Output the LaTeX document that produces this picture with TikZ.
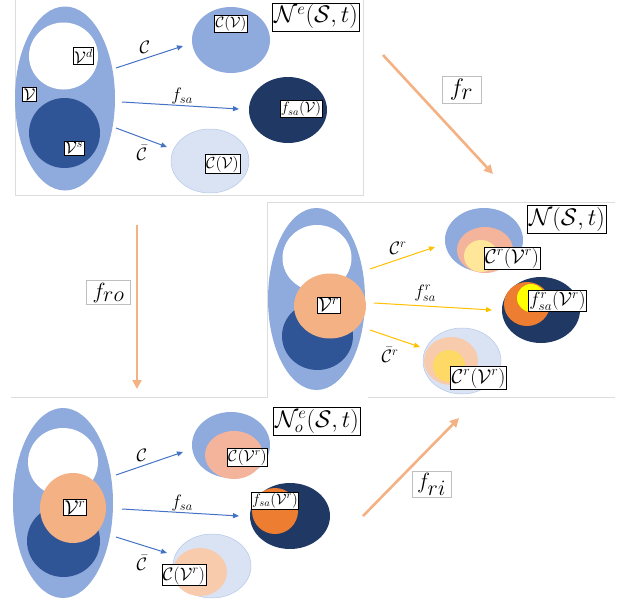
\documentclass[tikz,border=0pt]{standalone}
\usepackage{fix-cm}
\usetikzlibrary{arrows.meta,shapes.geometric}
\definecolor{cmid}{HTML}{8FAADC}
\definecolor{cdark}{HTML}{2F5597}
\definecolor{cnavy}{HTML}{203864}
\definecolor{clight}{HTML}{DAE3F3}
\definecolor{clightb}{HTML}{B4C7E7}
\definecolor{corg}{HTML}{F4B183}
\definecolor{csalm}{HTML}{F4B49C}
\definecolor{csalml}{HTML}{F8CBAD}
\definecolor{cdorg}{HTML}{ED7D31}
\definecolor{cyel}{HTML}{FFFF00}
\definecolor{cpy}{HTML}{FFE699}
\definecolor{cgy}{HTML}{FFD966}
\definecolor{cgold}{HTML}{FFC000}
\definecolor{carrow}{HTML}{4472C4}
\definecolor{cpanel}{HTML}{DDDDDD}
\newcommand{\fsz}[1]{\fontsize{#1}{#1}\selectfont}
\tikzset{
  blob/.style={ellipse,inner sep=0pt,draw=none},
  lab/.style={draw=black,line width=0.6pt,fill=white,inner sep=1pt,font=\fsz{15}},
  biglab/.style={draw=black,line width=0.9pt,fill=white,inner sep=2pt,font=\fsz{24}},
  flab/.style={draw=black!25,line width=0.5pt,fill=white,inner xsep=8pt,inner ysep=3pt,font=\fsz{24}},
  alab/.style={inner sep=0pt,font=\fsz{18}},
  barrow/.style={draw=carrow,line width=1pt,-{Triangle[length=6pt,width=5pt]}},
  garrow/.style={draw=cgold,line width=1pt,-{Triangle[length=6pt,width=5pt]}},
  oarrow/.style={draw=corg,line width=2.6pt,-{Triangle[length=9pt,width=9pt]}},
  panel/.style={draw=cpanel,line width=0.6pt}
}
\begin{document}
\begin{tikzpicture}[x=1pt,y=-1pt]
\useasboundingbox (0,0) rectangle (635,605);
% panel borders
\draw[panel] (15.5,0) -- (15.5,195) -- (363,195) -- (363,0);
\draw[panel] (615,202) -- (267,202) -- (267,397) -- (11,397);
\draw[panel] (368,397) -- (615,397);

% ===== Panel 1 =====
\node[blob,fill=cmid,minimum width=100pt,minimum height=184pt] (V1) at (65,98.5) {};
\node[blob,fill=white,minimum width=69pt,minimum height=67pt] (W1) at (63.5,56) {};
\node[blob,fill=cdark,minimum width=71pt,minimum height=70pt] (S1) at (64.5,133) {};
\node[lab,font=\fsz{17}] (lVd) at (83.5,56) {$\mathcal{V}^d$};
\node[lab,font=\fsz{17}] (lV) at (29.5,94.5) {$\mathcal{V}$};
\node[lab,font=\fsz{17}] (lVs) at (74,148) {$\mathcal{V}^s$};

\node[blob,fill=cmid,minimum width=78pt,minimum height=66pt] (CV1) at (231,40) {};
\node[blob,fill=cnavy,minimum width=78pt,minimum height=66pt] (FV1) at (288,110) {};
\node[blob,fill=clight,draw=clightb,line width=0.5pt,minimum width=78pt,minimum height=64pt] (BV1) at (210,161) {};
\node[lab,font=\fsz{15}] (lCV1) at (231,24) {$\mathcal{C}(\mathcal{V})$};
\node[lab,font=\fsz{15}] (lFV1) at (301,109) {$f_{sa}(\mathcal{V})$};
\node[lab,font=\fsz{16}] (lBV1) at (222.5,164) {$\bar{\mathcal{C}}(\mathcal{V})$};
\node[biglab] (N1) at (316,17) {$\mathcal{N}^e(\mathcal{S},t)$};

\coordinate (a1s) at (116,68); \coordinate (a1e) at (183,46);
\coordinate (a2s) at (122,102); \coordinate (a2e) at (239,109);
\coordinate (a3s) at (116,128); \coordinate (a3e) at (167,147);
\draw[barrow] (a1s) -- (a1e);
\draw[barrow] (a2s) -- (a2e);
\draw[barrow] (a3s) -- (a3e);
\node[alab] (t1) at (145,47) {$\mathcal{C}$};
\node[alab] (t2) at (182,96) {$f_{sa}$};
\node[alab] (t3) at (142,153) {$\bar{\mathcal{C}}$};

% ===== Panel 2 =====
\node[blob,fill=cmid,minimum width=97pt,minimum height=182pt] (V2) at (316.5,299) {};
\node[blob,fill=white,minimum width=69pt,minimum height=66pt] (W2) at (317,258) {};
\node[blob,fill=cdark,minimum width=71pt,minimum height=68pt] (S2) at (317.5,336) {};
\node[blob,fill=corg,minimum width=72pt,minimum height=65pt] (R2) at (330,306) {};
\node[lab,font=\fsz{20}] (lVr2) at (328.5,305) {$\mathcal{V}^r$};
\node[biglab] (N2) at (567,219) {$\mathcal{N}(\mathcal{S},t)$};

\node[blob,fill=cmid,minimum width=78pt,minimum height=64pt] (CV2) at (484,240) {};
\node[blob,fill=csalm,minimum width=56pt,minimum height=46pt] (CV2b) at (485,250) {};
\node[blob,fill=cpy,minimum width=34pt,minimum height=32pt] (CV2c) at (481,256) {};
\node[lab,font=\fsz{20}] (lCV2) at (512,258) {$\mathcal{C}^r(\mathcal{V}^r)$};

\node[blob,fill=cnavy,minimum width=78pt,minimum height=66pt] (FV2) at (541,310) {};
\node[blob,fill=cdorg,minimum width=46pt,minimum height=44pt] (FV2b) at (527,304) {};
\node[blob,fill=cyel,minimum width=28pt,minimum height=28pt] (FV2c) at (531,298) {};
\node[lab,font=\fsz{19}] (lFV2) at (557.5,301) {$f^r_{sa}(\mathcal{V}^r)$};

\node[blob,fill=clight,draw=clightb,line width=0.5pt,minimum width=78pt,minimum height=66pt] (BV2) at (462,361) {};
\node[blob,fill=csalml,minimum width=54pt,minimum height=48pt] (BV2b) at (451,361) {};
\node[blob,fill=cgy,minimum width=32pt,minimum height=32pt] (BV2c) at (449,366) {};
\node[lab,font=\fsz{20}] (lBV2) at (478.5,377.5) {$\bar{\mathcal{C}}^r(\mathcal{V}^r)$};

\coordinate (g1s) at (370,269); \coordinate (g1e) at (435,247);
\coordinate (g2s) at (374,303); \coordinate (g2e) at (492,310);
\coordinate (g3s) at (370,330); \coordinate (g3e) at (420,347);
\draw[garrow] (g1s) -- (g1e);
\draw[garrow] (g2s) -- (g2e);
\draw[garrow] (g3s) -- (g3e);
\node[alab] (u1) at (398,248) {$\mathcal{C}^r$};
\node[alab] (u2) at (425,293) {$f^r_{sa}$};
\node[alab] (u3) at (390,355) {$\bar{\mathcal{C}}^r$};

% ===== Panel 3 =====
\node[blob,fill=cmid,minimum width=100pt,minimum height=190pt] (V3) at (63,503) {};
\node[blob,fill=white,minimum width=70pt,minimum height=68pt] (W3) at (63,462) {};
\node[blob,fill=cdark,minimum width=73pt,minimum height=72pt] (S3) at (63.5,541) {};
\node[blob,fill=corg,minimum width=66pt,minimum height=70pt] (R3) at (73,508) {};
\node[lab,font=\fsz{20}] (lVr3) at (75,507.5) {$\mathcal{V}^r$};
\node[biglab] (N3) at (317,421) {$\mathcal{N}^e_o(\mathcal{S},t)$};

\node[blob,fill=cmid,minimum width=78pt,minimum height=66pt] (CV3) at (231,445) {};
\node[blob,fill=csalm,minimum width=58pt,minimum height=48pt] (CV3b) at (234,455) {};
\node[lab,font=\fsz{16}] (lCV3) at (247.5,457) {$\mathcal{C}(\mathcal{V}^r)$};

\node[blob,fill=cnavy,minimum width=80pt,minimum height=66pt] (FV3) at (290,516) {};
\node[blob,fill=cdorg,minimum width=46pt,minimum height=46pt] (FV3b) at (275,511) {};
\node[lab,font=\fsz{15}] (lFV3) at (275,500.5) {$f_{sa}(\mathcal{V}^r)$};

\node[blob,fill=clight,draw=clightb,line width=0.5pt,minimum width=78pt,minimum height=64pt] (BV3) at (212,566) {};
\node[blob,fill=csalml,minimum width=54pt,minimum height=48pt] (BV3b) at (200,572) {};
\node[lab,font=\fsz{18}] (lBV3) at (184,575) {$\bar{\mathcal{C}}(\mathcal{V}^r)$};

\coordinate (b1s) at (116,475); \coordinate (b1e) at (183,452);
\coordinate (b2s) at (122,509); \coordinate (b2e) at (239,516);
\coordinate (b3s) at (116,537); \coordinate (b3e) at (167,553);
\draw[barrow] (b1s) -- (b1e);
\draw[barrow] (b2s) -- (b2e);
\draw[barrow] (b3s) -- (b3e);
\node[alab] (v1) at (142,455) {$\mathcal{C}$};
\node[alab] (v2) at (182,503) {$f_{sa}$};
\node[alab] (v3) at (142,563) {$\bar{\mathcal{C}}$};

% ===== big transition arrows =====
\coordinate (r1s) at (383,55); \coordinate (r1e) at (493,174);
\coordinate (r2s) at (137,225); \coordinate (r2e) at (137,389);
\coordinate (r3s) at (363,516); \coordinate (r3e) at (459,418);
\draw[oarrow] (r1s) -- (r1e);
\draw[oarrow] (r2s) -- (r2e);
\draw[oarrow] (r3s) -- (r3e);
\node[flab] (fr) at (461.5,89.5) {$f_{\textstyle r}$};
\node[flab,font=\fsz{22},inner xsep=6pt,inner ysep=2pt] (fro) at (108.5,292.5) {$f_{\textstyle ro}$};
\node[flab,font=\fsz{22},inner xsep=5pt,inner ysep=2pt] (fri) at (431.5,484.5) {$f_{\textstyle ri}$};
\end{tikzpicture}
\end{document}
